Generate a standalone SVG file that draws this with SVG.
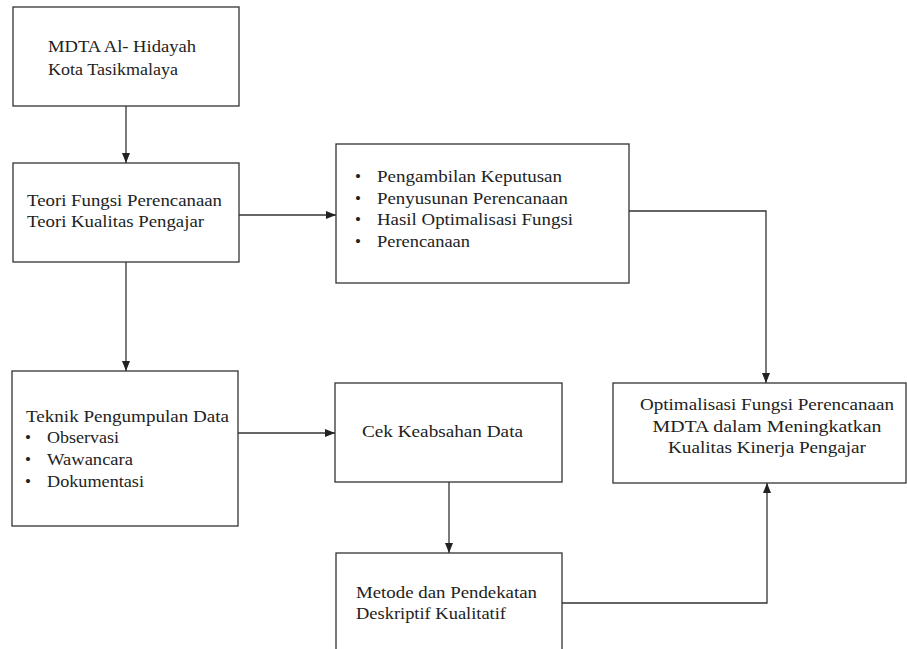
<svg xmlns="http://www.w3.org/2000/svg" width="907" height="649" viewBox="0 0 907 649">
<style>
.box{fill:#fff;stroke:#333;stroke-width:1.3}
.t{font-family:'Liberation Serif','Times New Roman',Tinos,'DejaVu Serif',serif;font-size:17px;fill:#222}
.c{fill:none;stroke:#333;stroke-width:1.3}
</style>
<defs>
<marker id="ah" markerUnits="userSpaceOnUse" markerWidth="10" markerHeight="10" viewBox="0 0 10 10" refX="10" refY="5" orient="auto">
<path d="M0,1 L10,5 L0,9 Z" fill="#222"/>
</marker>
</defs>
<rect width="907" height="649" fill="#fff"/>
<g id="connectors">
<path class="c" d="M126,106 V163" marker-end="url(#ah)"/>
<path class="c" d="M239,215 H336" marker-end="url(#ah)"/>
<path class="c" d="M627,211 H766 V383" marker-end="url(#ah)"/>
<path class="c" d="M126,262 V371" marker-end="url(#ah)"/>
<path class="c" d="M238,433 H335" marker-end="url(#ah)"/>
<path class="c" d="M449,482 V553" marker-end="url(#ah)"/>
<path class="c" d="M562,603 H767 V483" marker-end="url(#ah)"/>
</g>
<g id="mdta">
<rect class="box" x="13" y="7" width="226" height="99"/>
<text class="t" font-family="Liberation Serif, serif" x="48" y="52" textLength="148" lengthAdjust="spacingAndGlyphs">MDTA Al- Hidayah</text>
<text class="t" font-family="Liberation Serif, serif" x="48" y="75" textLength="130" lengthAdjust="spacingAndGlyphs">Kota Tasikmalaya</text>
</g>
<g id="teori">
<rect class="box" x="13" y="163" width="226" height="99"/>
<text class="t" x="27" y="206" textLength="195" lengthAdjust="spacingAndGlyphs">Teori Fungsi Perencanaan</text>
<text class="t" x="27" y="227" textLength="177" lengthAdjust="spacingAndGlyphs">Teori Kualitas Pengajar</text>
</g>
<g id="hasil">
<rect class="box" x="336" y="144" width="293" height="139"/>
<text class="t" x="358" y="182" text-anchor="middle">•</text>
<text class="t" x="358" y="204" text-anchor="middle">•</text>
<text class="t" x="358" y="225" text-anchor="middle">•</text>
<text class="t" x="358" y="247" text-anchor="middle">•</text>
<text class="t" x="377" y="182" textLength="185" lengthAdjust="spacingAndGlyphs">Pengambilan Keputusan</text>
<text class="t" x="377" y="204" textLength="191" lengthAdjust="spacingAndGlyphs">Penyusunan Perencanaan</text>
<text class="t" x="377" y="225" textLength="196" lengthAdjust="spacingAndGlyphs">Hasil Optimalisasi Fungsi</text>
<text class="t" x="377" y="247" textLength="93" lengthAdjust="spacingAndGlyphs">Perencanaan</text>
</g>
<g id="teknik">
<rect class="box" x="12" y="371" width="226" height="155"/>
<text class="t" x="26" y="422" textLength="203" lengthAdjust="spacingAndGlyphs">Teknik Pengumpulan Data</text>
<text class="t" x="28" y="443" text-anchor="middle">•</text>
<text class="t" x="28" y="465" text-anchor="middle">•</text>
<text class="t" x="28" y="487" text-anchor="middle">•</text>
<text class="t" x="47" y="443" textLength="72" lengthAdjust="spacingAndGlyphs">Observasi</text>
<text class="t" x="47" y="465" textLength="86" lengthAdjust="spacingAndGlyphs">Wawancara</text>
<text class="t" x="47" y="487" textLength="97" lengthAdjust="spacingAndGlyphs">Dokumentasi</text>
</g>
<g id="cek">
<rect class="box" x="335" y="383" width="227" height="99"/>
<text class="t" x="362" y="437" textLength="161" lengthAdjust="spacingAndGlyphs">Cek Keabsahan Data</text>
</g>
<g id="optimalisasi">
<rect class="box" x="613" y="383" width="293" height="100"/>
<text class="t" x="767" y="410" text-anchor="middle" textLength="254" lengthAdjust="spacingAndGlyphs">Optimalisasi Fungsi Perencanaan</text>
<text class="t" x="767" y="432" text-anchor="middle" textLength="229" lengthAdjust="spacingAndGlyphs">MDTA dalam Meningkatkan</text>
<text class="t" x="767" y="453" text-anchor="middle" textLength="198" lengthAdjust="spacingAndGlyphs">Kualitas Kinerja Pengajar</text>
</g>
<g id="metode">
<rect class="box" x="336" y="553" width="226" height="110"/>
<text class="t" x="356" y="598" textLength="181" lengthAdjust="spacingAndGlyphs">Metode dan Pendekatan</text>
<text class="t" x="356" y="619" textLength="150" lengthAdjust="spacingAndGlyphs">Deskriptif Kualitatif</text>
</g>
</svg>
